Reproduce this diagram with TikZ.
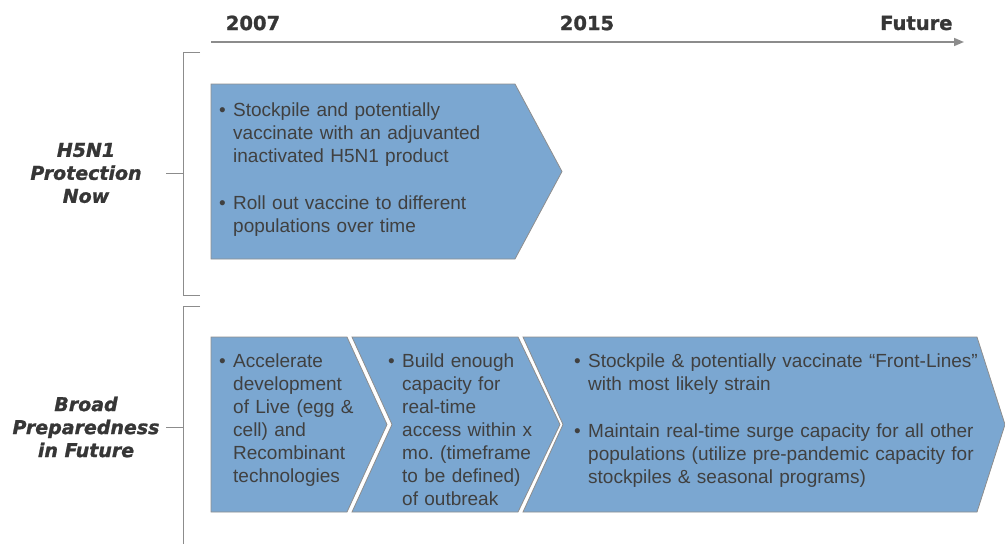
\documentclass[tikz,border=0pt]{standalone}
\usepackage{fontspec}
\setmainfont{Liberation Sans}
\newfontfamily\heavyfont{DejaVu Sans}[BoldFont={DejaVu Sans Bold},BoldItalicFont={DejaVu Sans Bold Oblique},ItalicFont={DejaVu Sans Oblique},BoldFeatures={FakeBold=1.2},BoldItalicFeatures={FakeBold=1.2}]
\usetikzlibrary{arrows.meta}
\frenchspacing

\definecolor{chevfill}{HTML}{7BA7D1}
\definecolor{chevline}{HTML}{8E8E8E}
\definecolor{txtgray}{HTML}{404040}
\definecolor{axisgray}{HTML}{8C8C8C}

% one bullet paragraph, hanging indent
\newcommand{\bitem}[1]{\hangindent=14pt\hangafter=1\noindent\makebox[14pt][l]{\textbullet}#1\par}
\newcommand{\bgap}{\vspace{24pt}}

\begin{document}
\begin{tikzpicture}[x=1pt,y=-1pt,
	chev/.style={fill=chevfill, draw=chevline, line width=0.8pt},
	bodytext/.style={anchor=north west, inner sep=0pt, text=txtgray, align=left, font=\fontsize{19}{23}\selectfont},
	yearlabel/.style={font=\heavyfont\bfseries\fontsize{19.5}{22}\selectfont, text=txtgray!85!black},
	sidelabel/.style={font=\heavyfont\bfseries\itshape\fontsize{19}{23}\selectfont, text=txtgray!85!black, align=center},
	bracket/.style={draw=axisgray, line width=1pt}]
			\useasboundingbox (0,0) rectangle (1005,544);

			% time axis
			\coordinate (tstart) at (211,42);
			\coordinate (tend) at (964,42);
			\draw [axisgray, line width=1.6pt, -{Triangle[length=10pt,width=8pt]}] (tstart) -- (tend);
			\node[yearlabel] (y2007) at (253,23) {2007};
			\node[yearlabel] (y2015) at (587,23) {2015};
			\node[yearlabel, anchor=east] (yfuture) at (956,23) {Future};

			% brackets
			\draw [bracket] (200,52) -- (183,52) -- (183,295) -- (200,295);
			\draw [bracket] (200,306) -- (183,306) -- (183,545);
			\coordinate (topmid) at (183,173);
			\coordinate (botmid) at (183,427);

			% row labels
			\node[sidelabel] (hnow) at (86,173) {H5N1\\Protection\\Now};
			\node[sidelabel] (broad) at (86,427) {Broad\\Preparedness\\in Future};
			\draw [bracket] (hnow.east -| 166,173) -- (topmid);
			\draw [bracket] (broad.east -| 166,427) -- (botmid);

			% chevron on top row
			\draw [chev] (211,84) -- (515,84) -- (562,171.5) -- (515,259) -- (211,259) -- cycle;

			% chevrons on bottom row
			\draw [chev] (211,337) -- (347,337) -- (387,424.5) -- (347,512) -- (211,512) -- cycle;
			\draw [chev] (352,337) -- (518,337) -- (560,424.5) -- (518,512) -- (352,512) -- (392,424.5) -- cycle;
			\draw [chev] (523,337) -- (977,337) -- (1005,424.5) -- (977,512) -- (523,512) -- (563,424.5) -- cycle;

			% chevron texts
			\node[bodytext, text width=290pt] (nowtext) at (219,102.5) {%
				\bitem{Stockpile and potentially\newline vaccinate with an adjuvanted\newline inactivated H5N1 product}\bgap
				\bitem{Roll out vaccine to different\newline populations over time}};
			\node[bodytext, text width=150pt] (livetext) at (219,354) {%
				\bitem{Accelerate\newline development\newline of Live (egg \&\newline cell) and\newline Recombinant\newline technologies}};
			\node[bodytext, text width=160pt] (captext) at (388,354) {%
				\bitem{Build enough\newline capacity for\newline real-time\newline access within x\newline mo. (timeframe\newline to be defined)\newline of outbreak}};
			\node[bodytext, text width=420pt] (surgetext) at (574,354) {%
				\bitem{Stockpile \& potentially vaccinate “Front-Lines”\newline with most likely strain}\bgap
				\bitem{Maintain real-time surge capacity for all other\newline populations (utilize pre-pandemic capacity for\newline stockpiles \& seasonal programs)}};

		\end{tikzpicture}
\end{document}
